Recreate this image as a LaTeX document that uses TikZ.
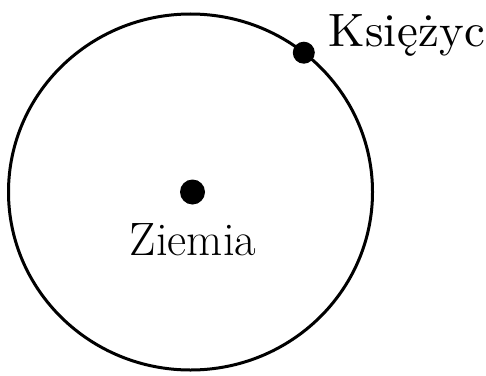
\documentclass[tikz,border=0pt]{standalone}
\usepackage{fontspec}
\newfontfamily\moonfont[LetterSpace=0.8]{lmroman10-regular.otf}

\begin{document}
\begin{tikzpicture}[x=1bp,y=1bp,body/.style={circle,fill=black,inner sep=0pt},bodytext/.style={font=\fontsize{47}{54}\selectfont,inner sep=0pt},orbit/.style={line width=3bp}]
\useasboundingbox (0,0) rectangle (486,375);
\coordinate (O) at (190.5,183);
\coordinate (M) at ([shift={(51.5:182 and 178)}]O);
\draw[orbit] (O) ellipse (182 and 178);
\node[body,minimum size=25bp] (earth) at (192.5,183) {};
\node[bodytext,anchor=base] (earthlabel) at (193,120) {Ziemia};
\node[body,minimum size=22bp] (moon) at (M) {};
\node[bodytext,anchor=base west] (moonlabel) at (328,329) {\moonfont Księżyc};
\end{tikzpicture}
\end{document}
